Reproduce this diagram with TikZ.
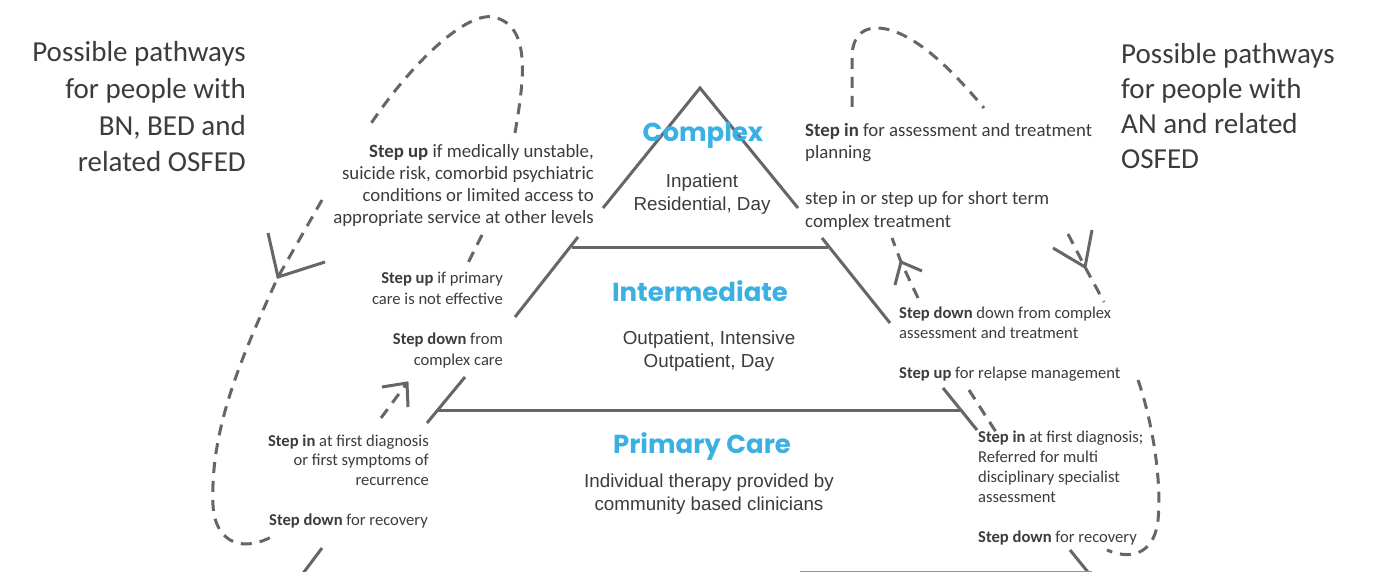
\documentclass[tikz,border=0pt]{standalone}
\usepackage{fontspec}
\setmainfont{Carlito}
\newfontfamily\helvfont{Liberation Sans}
\newfontfamily\headfont{Poppins}
\definecolor{linegray}{HTML}{666666}
\definecolor{txtgray}{HTML}{3C3C3C}
\definecolor{levelblue}{HTML}{3BB0E2}
\tikzset{
  solidline/.style={draw=linegray, line width=3pt},
  dashline/.style={draw=linegray, line width=3pt, dash pattern=on 11pt off 8pt},
  arrowarms/.style={draw=linegray, line width=3pt, line join=miter},
  bignote/.style={font=\fontsize{18.8}{#1}\selectfont, text=txtgray, inner sep=0pt},
  bignote/.default=22.3,
  note/.style={font=\fontsize{16.6}{#1}\selectfont, text=txtgray, inner sep=0pt},
  note/.default=20,
  pathtitle/.style={font=\fontsize{29}{#1}\selectfont, text=txtgray, inner sep=0pt},
  pathtitle/.default=36.5,
  level/.style={font=\headfont\bfseries\fontsize{26}{30}\selectfont, text=levelblue, inner sep=0pt, anchor=base},
  desc/.style={font=\helvfont\fontsize{18.8}{23}\selectfont, text=txtgray, inner sep=0pt, align=center, anchor=base}
}
\begin{document}
\begin{tikzpicture}[x=1pt,y=-1pt]
\useasboundingbox[fill=white] (0,0) rectangle (1375,572);

% ---- pyramid ----
\coordinate (apex) at (700,88);
\draw[solidline] (603,208) -- (apex) -- (798,208);
\draw[solidline] (572,247) -- (828,247);
\draw[solidline] (578,237) -- (515,317);
\draw[solidline] (822,238) -- (890,323);
\draw[solidline] (438,410) -- (960,410);
\draw[solidline] (465,377) -- (427,423);
\draw[solidline] (943,388) -- (977,430);
\draw[solidline] (322,548) -- (298,580);
\draw[solidline] (1070,550) -- (1096,582);
\draw[draw=linegray!70, line width=1.5pt] (800,571.5) -- (1092,571.5);

% ---- arrow tips ----
\coordinate (tipL) at (278,277);
\coordinate (tipLs) at (407,383);
\coordinate (tipR) at (1085,267);
\coordinate (tipRs) at (901,262);
\draw[arrowarms] (268,233) -- (tipL) -- (325,262);
\draw[arrowarms] (382,387) -- (tipLs) -- (408,407);
\draw[arrowarms] (1092,230) -- (tipR) -- (1053,248);
\draw[arrowarms] (895,285) -- (tipRs) -- (922,271);

% ---- dashed pathways, left ----
\draw[dashline] (515,133) .. controls (524,80) and (532,25) .. (493,17)
                .. controls (465,12) and (410,65) .. (370,125);
\draw[dashline] (322,200) -- (tipL) .. controls (240,360) and (210,430) .. (213,505)
                .. controls (215,545) and (245,552) .. (273,536);
\draw[dashline] (482,235) -- (466,267);
\draw[dashline] (381,418) -- (tipLs);

% ---- dashed pathways, right ----
\draw[dashline] (852,107) -- (852,58) .. controls (852,28) and (872,25) .. (890,30)
                .. controls (925,40) and (962,82) .. (984,108);
\draw[dashline] (1068,234) -- (tipR) -- (1104,302);
\draw[dashline] (1138,380) .. controls (1152,420) and (1162,480) .. (1158,520)
                .. controls (1155,550) and (1135,562) .. (1107,550);
\draw[dashline] (918,298) -- (tipRs) -- (892,238);
\draw[dashline] (969,390) -- (996,432);

% ---- titles (base anchor = last line) ----
\node[pathtitle=36.7, align=right, anchor=base east] (ltitle) at (246,172)
  {Possible pathways\\for people with\\BN, BED and\\related OSFED};
\node[pathtitle=35.3, align=left, anchor=base west] (rtitle) at (1121,169)
  {Possible pathways\\for people with\\AN and related\\OSFED};

% ---- levels ----
\node[level] (complex) at (703,142) {Complex};
\node[level] (inter) at (700,301) {Intermediate};
\node[level] (primary) at (702,453) {Primary Care};
\node[desc] (d1) at (702,211) {Inpatient\\Residential, Day};
\node[desc] (d2) at (709,367) {Outpatient, Intensive\\Outpatient, Day};
\node[desc] (d3) at (709,510) {Individual therapy provided by\\community based clinicians};

% ---- left notes ----
\node[bignote=22, align=right, anchor=base east] (n1) at (594,223)
  {\textbf{Step up} if medically unstable,\\suicide risk, comorbid psychiatric\\conditions or limited access to\\appropriate service at other levels};
\node[note=21, align=right, anchor=base east] (n2) at (503,304)
  {\textbf{Step up} if primary\\care is not effective};
\node[note=21, align=right, anchor=base east] (n3) at (503,365)
  {\textbf{Step down} from\\complex care};
\node[note=19.5, align=right, anchor=base east] (n4) at (429,485)
  {\textbf{Step in} at first diagnosis\\or first symptoms of\\recurrence};
\node[note, anchor=base west] (n5) at (269,525) {\textbf{Step down} for recovery};

% ---- right notes ----
\node[bignote=22.5, align=left, anchor=base west] (n6) at (805,159)
  {\textbf{Step in} for assessment and treatment\\planning};
\node[bignote=23, align=left, anchor=base west] (n7) at (805,227)
  {step in or step up for short term\\complex treatment};
\node[note=20, align=left, anchor=base west] (n8) at (899,338)
  {\textbf{Step down} down from complex\\assessment and treatment};
\node[note, anchor=base west] (n9) at (899,378) {\textbf{Step up} for relapse management};
\node[note=20, align=left, anchor=base west] (n10) at (978,502)
  {\textbf{Step in} at first diagnosis;\\Referred for multi\\disciplinary specialist\\assessment};
\node[note, anchor=base west] (n11) at (978,542) {\textbf{Step down} for recovery};
\end{tikzpicture}
\end{document}
